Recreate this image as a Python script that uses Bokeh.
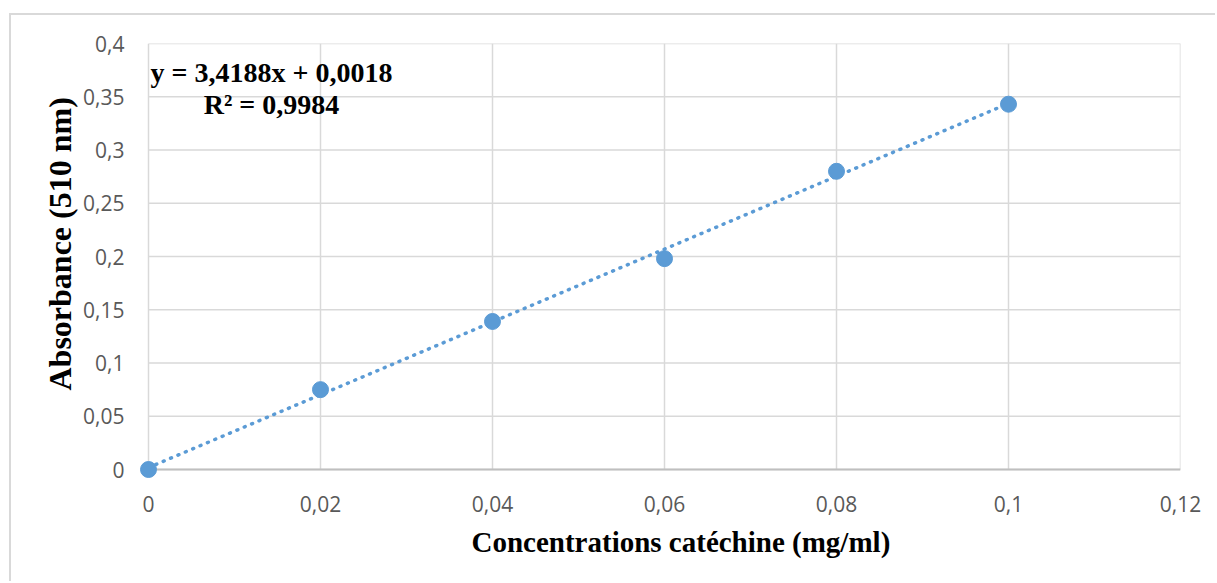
from bokeh.plotting import figure
from bokeh.models import ColumnDataSource, FixedTicker, Label, Title
from bokeh.embed import file_html
from bokeh.resources import INLINE

# Calibration data: catechin concentration vs absorbance at 510 nm
concentration = [0.0, 0.02, 0.04, 0.06, 0.08, 0.10]
absorbance = [0.0, 0.075, 0.139, 0.198, 0.280, 0.343]

# Linear fit reported on the chart
slope = 3.4188
intercept = 0.0018
r_squared = 0.9984

x_ticks = [0.0, 0.02, 0.04, 0.06, 0.08, 0.10, 0.12]
x_tick_labels = ["0", "0,02", "0,04", "0,06", "0,08", "0,1", "0,12"]
y_ticks = [0.0, 0.05, 0.10, 0.15, 0.20, 0.25, 0.30, 0.35, 0.40]
y_tick_labels = ["0", "0,05", "0,1", "0,15", "0,2", "0,25", "0,3", "0,35", "0,4"]

x_title = "Concentrations catéchine (mg/ml)"
y_title = "Absorbance (510 nm)"

BLUE = "#5b9bd5"
GRID = "#d9d9d9"
TICK_FONT = "Open Sans"
TITLE_FONT = "Liberation Serif"

x0, x1 = x_ticks[0], x_ticks[-1]
y0, y1 = y_ticks[0], y_ticks[-1]
# small padding so the marker at the origin is not cut by the frame
pad_x = (x1 - x0) / 1032 * 9
pad_y = (y1 - y0) / 426 * 9

p = figure(width=1206, height=568, output_backend="svg", toolbar_location=None,
           x_range=(x0 - pad_x, x1), y_range=(y0 - pad_y, y1),
           min_border_left=128, min_border_right=37,
           min_border_top=28, min_border_bottom=105)
p.margin = (13, 0, 0, 9)
p.styles = {"border-left": f"2px solid {GRID}", "border-top": f"2px solid {GRID}"}
p.outline_line_color = None
p.background_fill_color = "white"
p.border_fill_color = "white"
p.xgrid.visible = False
p.ygrid.visible = False

# Gridlines limited to the axis extents
p.segment(x0=x_ticks, y0=[y0] * len(x_ticks), x1=x_ticks, y1=[y1] * len(x_ticks),
          line_color=GRID, line_width=1.5)
p.segment(x0=[x0] * len(y_ticks), y0=y_ticks, x1=[x1] * len(y_ticks), y1=y_ticks,
          line_color=GRID, line_width=1.5)
# horizontal axis line at zero
p.segment(x0=[x0], y0=[y0], x1=[x1], y1=[y0], line_color="#bfbfbf", line_width=2)

# Axes
p.xaxis.ticker = FixedTicker(ticks=x_ticks)
p.yaxis.ticker = FixedTicker(ticks=y_ticks)
p.xaxis.major_label_overrides = dict(zip(x_ticks, x_tick_labels))
p.yaxis.major_label_overrides = dict(zip(y_ticks, y_tick_labels))
for ax in (p.xaxis[0], p.yaxis[0]):
    ax.axis_line_color = None
    ax.major_tick_line_color = None
    ax.minor_tick_line_color = None
    ax.major_label_text_font = TICK_FONT
    ax.major_label_text_font_size = "21px"
    ax.major_label_text_color = "#595959"
p.xaxis.major_label_standoff = 11
p.yaxis.major_label_standoff = 9

# Axis titles
p.add_layout(Title(text=x_title, align="left", offset=332, standoff=19,
                   text_font=TITLE_FONT, text_font_style="bold",
                   text_font_size="29px", text_color="black"), "below")
p.add_layout(Title(text=y_title, align="left", offset=88, standoff=6,
                   text_font=TITLE_FONT, text_font_style="bold",
                   text_font_size="32px", text_color="black"), "left")

# Dotted trend line from the fitted equation
fit_x = [concentration[0], concentration[-1]]
fit_y = [slope * x + intercept for x in fit_x]
p.line(fit_x, fit_y, line_color=BLUE, line_width=3.5, line_dash="1 7",
       line_cap="round")

# Measured points
src = ColumnDataSource(dict(x=concentration, y=absorbance))
p.scatter("x", "y", source=src, size=16, fill_color=BLUE, line_color=BLUE)

# Equation and coefficient of determination
eq_text = f"y = {slope:.4f}x + {intercept:.4f}".replace(".", ",")
r2_text = f"R² = {r_squared:.4f}".replace(".", ",")
for txt, yy in ((eq_text, 0.3725), (r2_text, 0.3425)):
    p.add_layout(Label(x=0.0143, y=yy, text=txt, text_align="center",
                       text_baseline="middle", text_font=TITLE_FONT,
                       text_font_style="bold", text_font_size="28px",
                       text_color="black"))

open("out.html", "w").write(file_html(p, INLINE))
